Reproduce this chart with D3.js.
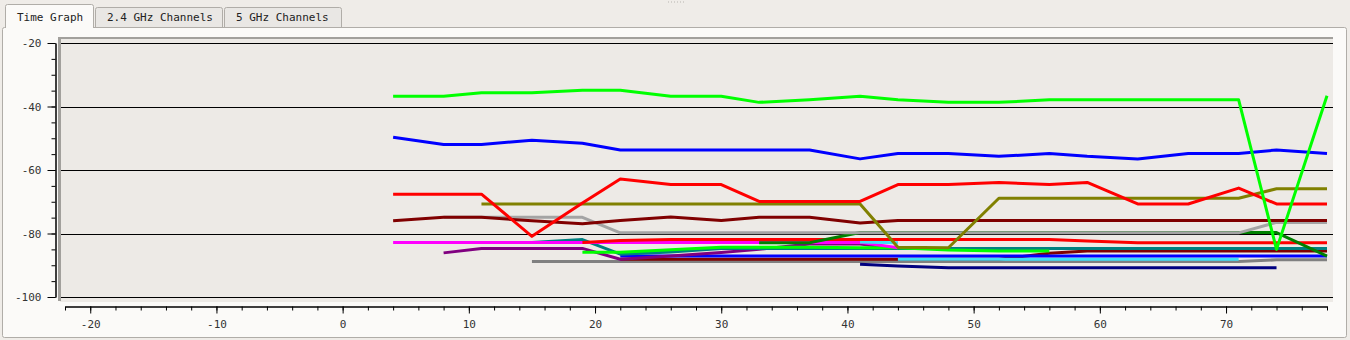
<!DOCTYPE html>
<html>
<head>
<meta charset="utf-8">
<script src="https://d3js.org/d3.v7.min.js"></script>
<style>
body { margin: 0; background: #efece8; }
text { font-family: "DejaVu Sans Mono", monospace; font-size: 11px; }
</style>
</head>
<body>
<div class="sticky"></div>
<script>

// data (seconds / dBm)

var times = [4, 8, 11, 15, 19, 22, 26, 30, 33, 37, 41, 44, 48, 52, 56, 59, 63, 67, 71, 74, 78]

var lime = [-36.8, -36.8, -35.7, -35.7, -34.9, -34.9, -36.8, -36.8, -38.7, -37.9, -36.8, -37.9, -38.7, -38.7, -37.9, -37.9, -37.9, -37.9, -37.9, -85, -36.6]
var blue = [-49.7, -52, -52, -50.6, -51.6, -53.7, -53.7, -53.7, -53.7, -53.7, -56.5, -54.8, -54.8, -55.7, -54.8, -55.7, -56.5, -54.8, -54.8, -53.7, -54.8]
var red = [-67.6, -67.6, -67.6, -80.9, -70.4, -62.8, -64.6, -64.6, -69.9, -69.9, -69.9, -64.6, -64.6, -63.9, -64.6, -63.9, -70.7, -70.7, -65.7, -70.7, -70.7]
var olive = [null, null, -70.7, -70.7, -70.7, -70.7, -70.7, -70.7, -70.7, -70.7, -70.7, -84.3, -84.5, -68.9, -68.9, -68.9, -68.9, -68.9, -68.9, -65.9, -65.9]
var maroon = [-76, -74.9, -74.9, -76, -76.9, -75.9, -74.8, -75.9, -74.9, -74.9, -76.7, -75.9, -75.9, -75.9, -75.9, -75.9, -75.9, -75.9, -75.9, -75.9, -75.9]
var silver = [null, -74.9, -74.9, -74.9, -74.9, -79.8, -79.8, -79.8, -79.8, -79.8, -79.8, -79.8, -79.8, -79.8, -79.8, -79.8, -79.8, -79.8, -79.8, -76.5, -76.5]
var green = [null, null, null, null, null, null, null, null, -82.9, -82.9, -79.7, -79.7, -79.7, -79.7, -79.7, -79.7, -79.7, -79.7, -79.7, -79.7, -87.1]
var red2 = [null, null, null, null, -82.8, -82.2, -81.9, -81.9, -81.9, -81.9, -81.9, -81.9, -81.9, -81.9, -81.9, -82.4, -82.9, -82.9, -82.9, -82.9, -82.9]
var cyan1 = [null, null, null, null, null, null, null, null, null, null, -82.7, -82.9, null, null, null, null, null, null, null, null, null]
var magenta = [-82.8, -82.8, -82.8, -82.8, -82.8, -82.8, -82.8, -82.8, -82.8, -82.8, -82.8, -84.5, null, null, null, null, null, null, null, null, null]
var purple = [null, -86.1, -84.7, -84.7, -84.7, -88.1, -87.1, -86, -85, -83.3, -83.3, -84.7, null, null, null, null, null, null, null, null, null]
var teal = [null, -82.8, -82.8, -82.8, -81.9, -86.5, -85.8, -84.7, -84.7, -84.7, -84.7, -84.7, -84.7, -84.7, -84.7, -84.7, -84.7, -84.7, -84.7, -84.7, -84.7]
var lime2 = [null, null, null, null, -85.9, -85.9, -85.1, -84.3, -84.3, -84.3, -84.5, -84.5, -85.2, -85.5, -85.5, null, null, null, null, null, null]
var blue2 = [null, null, null, null, null, -87.1, -87.1, -87.1, -87.1, -87.1, -87.1, -87.1, -87.1, -87.1, -87.1, -87.1, -87.1, -87.1, -87.1, -87.1, -87.1]
var maroon2 = [null, null, null, null, null, -88.1, -88.1, -88.1, -88.1, -88.1, -88.1, -88.1, -88.1, -88.1, -86.2, -85.5, -85.5, -85.5, -85.5, -85.5, -85.5]
var cyan2 = [null, null, null, null, null, null, null, null, null, null, null, -88.1, -88.1, -88.1, -88.1, -88.1, -88.1, -88.1, -88.1, null, null]
var navy = [null, null, null, null, null, null, null, null, null, null, -89.7, -90.2, -90.8, -90.8, -90.8, -90.8, -90.8, -90.8, -90.8, -90.8, null]
var gray = [null, null, null, -88.8, -88.8, -88.8, -88.8, -88.8, -88.8, -88.8, -88.8, -88.8, -88.8, -88.8, -88.8, -88.8, -88.8, -88.8, -88.8, -88.3, -88.3]

var yTicks = [-20, -40, -60, -80, -100]
var xTicks = [-20, -10, 0, 10, 20, 30, 40, 50, 60, 70]
var tabNames = ["Time Graph", "2.4 GHz Channels", "5 GHz Channels"]

// bottom first, lime ends up on top
var series = [
    [gray, "#808080"], [navy, "#000080"], [maroon2, "#800000"], [cyan2, "#3ee0f6"],
    [blue2, "#0000ff"], [purple, "#800080"], [teal, "#008080"], [lime2, "#00ff00"],
    [magenta, "#ff00ff"], [cyan1, "#3ee0f6"], [red2, "#ff0000"], [green, "#008000"],
    [silver, "#a4a4a4"], [maroon, "#800000"], [olive, "#808000"], [red, "#ff0000"],
    [blue, "#0000ff"], [lime, "#00ff00"]
]

//setup SVG

var w = 1350
var h = 340

var svg = d3.select(".sticky")
    .append("svg")
    .attr("width", w)
    .attr("height", h)
    .style("display", "block")

// tabs

var tabX = [5, 95, 224]
var tabW = [89, 128, 118]

tabNames.forEach(function(t, i) {
    var sel = i == 0
    var top = sel ? 4.5 : 7.5
    svg.append("path")
        .attr("d", "M" + (tabX[i] + 0.5) + ",28 V" + (top + 2) + " q0,-2 2,-2 H" + (tabX[i] + tabW[i] - 2.5) + " q2,0 2,2 V28")
        .attr("fill", sel ? "#fbfaf8" : "#e9e7e4")
        .attr("stroke", "#b0ada8")
    svg.append("text")
        .attr("x", tabX[i] + 12)
        .attr("y", 21)
        .attr("fill", "#222")
        .text(t)
})

// pane

svg.append("rect")
    .attr("x", 2.5)
    .attr("y", 27.5)
    .attr("width", 1344)
    .attr("height", 310)
    .attr("rx", 2)
    .attr("fill", "#fbfaf8")
    .attr("stroke", "#b0ada8")

svg.append("line")
    .attr("x1", 6).attr("x2", 93)
    .attr("y1", 27.5).attr("y2", 27.5)
    .attr("stroke", "#fbfaf8")

svg.append("line")
    .attr("x1", 668).attr("x2", 684)
    .attr("y1", 2).attr("y2", 2)
    .attr("stroke", "#b8b5b0")
    .attr("stroke-dasharray", "1,2")

// scales

var x = d3.scaleLinear().domain([-22, 78]).range([65, 1327])
var y = d3.scaleLinear().domain([-100, -20]).range([297, 43])

// plot area

svg.append("rect")
    .attr("x", 60)
    .attr("y", 38)
    .attr("width", 1273)
    .attr("height", 264)
    .attr("fill", "#edeae6")

svg.append("line")
    .attr("x1", 59.5).attr("x2", 59.5)
    .attr("y1", 37).attr("y2", 301)
    .attr("stroke", "#a2a09c")
    .attr("stroke-width", 3)

svg.append("line")
    .attr("x1", 58).attr("x2", 1333)
    .attr("y1", 38).attr("y2", 38)
    .attr("stroke", "#a2a09c")
    .attr("stroke-width", 2)

svg.selectAll(".grid")
    .data(yTicks)
    .enter()
    .append("line")
    .attr("class", "grid")
    .attr("x1", 61)
    .attr("x2", 1333)
    .attr("y1", function(d) { return Math.round(y(d)) + 0.5 })
    .attr("y2", function(d) { return Math.round(y(d)) + 0.5 })
    .attr("stroke", "#000")

// axes (plain hyphen labels like the original widget)

var fmt = function(d) { return String(d) }

svg.append("g")
    .attr("transform", "translate(55.5,0)")
    .call(d3.axisLeft(y).ticks(16).tickSize(4).tickSizeOuter(0).tickFormat(""))

svg.append("g")
    .attr("transform", "translate(55.5,0)")
    .call(d3.axisLeft(y).tickValues(yTicks).tickSize(8).tickSizeOuter(0).tickPadding(6).tickFormat(fmt))

svg.append("g")
    .attr("transform", "translate(0,306.5)")
    .call(d3.axisBottom(x).tickValues(d3.range(-22, 79, 2)).tickSize(4).tickSizeOuter(0).tickFormat(""))

svg.append("g")
    .attr("transform", "translate(0,306.5)")
    .call(d3.axisBottom(x).tickValues(xTicks).tickSize(7).tickSizeOuter(0).tickPadding(7).tickFormat(fmt))

svg.selectAll(".tick text")
    .attr("fill", "#333")
    .style("font-family", "DejaVu Sans Mono, monospace")
    .style("font-size", "11px")

// lines

var line = d3.line()
    .defined(function(d) { return d[1] != null })
    .x(function(d) { return x(d[0]) })
    .y(function(d) { return y(d[1]) })

series.forEach(function(s) {
    var pts = times.map(function(t, i) { return [t, s[0][i]] })
    svg.append("path")
        .attr("d", line(pts))
        .attr("fill", "none")
        .attr("stroke", s[1])
        .attr("stroke-width", 3)
        .attr("stroke-linejoin", "round")
})

</script>
</body>
</html>
